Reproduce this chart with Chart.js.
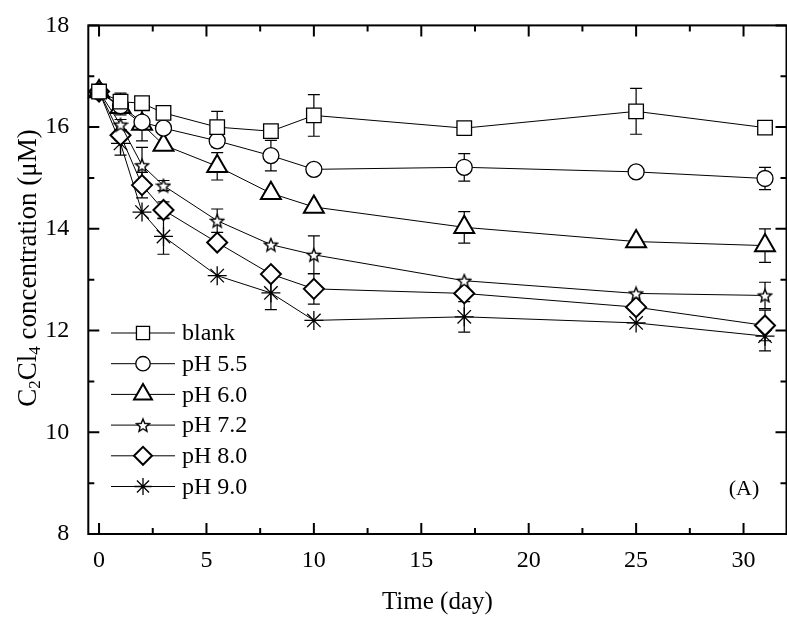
<!DOCTYPE html>
<html lang="en">
<head>
  <meta charset="UTF-8" />
  <title>C2Cl4 concentration vs time</title>
  <script src="https://cdn.jsdelivr.net/npm/chart.js"></script>
  <style>
    html, body {
      margin: 0;
      padding: 0;
      background: #fff;
      overflow: hidden;
    }
    canvas { display: block; }
  </style>
</head>
<body>
  <canvas id="pceChart" width="800" height="617"></canvas>

  <script>
    // sampling days
    const days = [0, 1, 2, 3, 5.5, 8, 10, 17, 25, 31];

    // concentrations (uM) and error bar half-widths
    const blank    = [16.70, 16.50, 16.47, 16.28, 16.00, 15.92, 16.23, 15.98, 16.31, 15.99];
    const blankErr = [0.05, 0.17, 0.10, 0, 0.31, 0, 0.41, 0, 0.45, 0.04];
    const ph55     = [16.70, 16.42, 16.10, 15.98, 15.73, 15.44, 15.17, 15.21, 15.12, 14.99];
    const ph55Err  = [0.05, 0.10, 0.10, 0, 0.12, 0.30, 0, 0.27, 0, 0.22];
    const ph60     = [16.70, 16.39, 16.06, 15.65, 15.23, 14.70, 14.43, 14.03, 13.75, 13.67];
    const ph60Err  = [0.05, 0.15, 0.33, 0, 0.27, 0, 0, 0.31, 0, 0.33];
    const ph72     = [16.70, 16.05, 15.25, 14.85, 14.16, 13.69, 13.49, 12.98, 12.73, 12.69];
    const ph72Err  = [0.05, 0.10, 0.35, 0.10, 0.23, 0, 0.37, 0, 0, 0.26];
    const ph80     = [16.70, 15.84, 14.86, 14.37, 13.73, 13.11, 12.82, 12.73, 12.46, 12.10];
    const ph80Err  = [0.05, 0.10, 0.25, 0.16, 0, 0, 0.30, 0, 0, 0.30];
    const ph90     = [16.70, 15.68, 14.33, 13.85, 13.08, 12.74, 12.20, 12.27, 12.15, 11.89];
    const ph90Err  = [0.05, 0.23, 0, 0.35, 0, 0.33, 0, 0.30, 0, 0.29];

    const seriesNames = ['blank', 'pH 5.5', 'pH 6.0', 'pH 7.2', 'pH 8.0', 'pH 9.0'];

    // axis ranges / tick steps
    const xRange = [-0.5, 32];
    const yRange = [8, 18];
    const xStep = 5;
    const yStep = 2;

    const FONT = "'Liberation Serif', 'Times New Roman', serif";

    // open five-pointed star (no built-in chart.js style for it)
    function makeStar(size) {
      const c = document.createElement('canvas');
      c.width = size;
      c.height = size;
      const g = c.getContext('2d');
      const cx = size / 2, cy = size / 2 + 0.7;
      const R = size / 2 - 1.2, r = R * 0.45;
      g.beginPath();
      for (let i = 0; i < 10; i++) {
        const a = -Math.PI / 2 + i * Math.PI / 5;
        const rr = i % 2 ? r : R;
        g.lineTo(cx + rr * Math.cos(a), cy + rr * Math.sin(a));
      }
      g.closePath();
      g.fillStyle = '#fff';
      g.fill();
      g.lineWidth = 1.4;
      g.strokeStyle = '#000';
      g.stroke();
      return c;
    }

    const toPoints = vals => vals.map((v, i) => ({ x: days[i], y: v }));

    const seriesValues = [blank, ph55, ph60, ph72, ph80, ph90];
    const seriesErrors = [blankErr, ph55Err, ph60Err, ph72Err, ph80Err, ph90Err];
    const markers = [
      { pointStyle: 'rect', pointRadius: 10.3, pointBorderWidth: 1.3 },
      { pointStyle: 'circle', pointRadius: 8, pointBorderWidth: 1.3 },
      { pointStyle: 'triangle', pointRadius: 11.5, pointBorderWidth: 2 },
      { pointStyle: makeStar(16), pointRadius: 7, pointBorderWidth: 1 },
      { pointStyle: 'rectRot', pointRadius: 10, pointBorderWidth: 2 },
      { pointStyle: 'star', pointRadius: 9.5, pointBorderWidth: 1.3 }
    ];

    const datasets = seriesNames.map((name, i) => ({
      label: name,
      data: toPoints(seriesValues[i]),
      errors: seriesErrors[i],
      borderColor: '#000',
      borderWidth: 1,
      pointBackgroundColor: '#fff',
      pointBorderColor: '#000',
      pointHoverRadius: markers[i].pointRadius,
      tension: 0,
      clip: false,
      ...markers[i]
    }));

    // error bars, drawn under the markers
    const errorBars = {
      id: 'errorBars',
      beforeDatasetsDraw(chart) {
        const { ctx, scales: { x, y } } = chart;
        ctx.save();
        ctx.strokeStyle = '#000';
        ctx.lineWidth = 1.2;
        chart.data.datasets.forEach(ds => {
          ds.errors.forEach((e, i) => {
            if (!e) return;
            const p = ds.data[i];
            const px = x.getPixelForValue(p.x);
            const top = y.getPixelForValue(p.y + e);
            const bot = y.getPixelForValue(p.y - e);
            ctx.beginPath();
            ctx.moveTo(px, top); ctx.lineTo(px, bot);
            ctx.moveTo(px - 6, top); ctx.lineTo(px + 6, top);
            ctx.moveTo(px - 6, bot); ctx.lineTo(px + 6, bot);
            ctx.stroke();
          });
        });
        ctx.restore();
      }
    };

    // closed frame with inward major + minor ticks on all four sides
    const frame = {
      id: 'frame',
      afterDatasetsDraw(chart) {
        const { ctx, chartArea: a, scales: { x, y } } = chart;
        ctx.save();
        ctx.strokeStyle = '#000';
        ctx.lineWidth = 2;
        ctx.strokeRect(a.left, a.top, a.right - a.left, a.bottom - a.top);

        const minors = ticks => {
          const out = [];
          for (let i = 0; i < ticks.length - 1; i++) out.push((ticks[i].value + ticks[i + 1].value) / 2);
          return out;
        };
        ctx.beginPath();
        const drawX = (vals, len) => vals.forEach(v => {
          const px = x.getPixelForValue(v);
          ctx.moveTo(px, a.bottom); ctx.lineTo(px, a.bottom - len);
          ctx.moveTo(px, a.top); ctx.lineTo(px, a.top + len);
        });
        const drawY = (vals, len) => vals.forEach(v => {
          const py = y.getPixelForValue(v);
          ctx.moveTo(a.left, py); ctx.lineTo(a.left + len, py);
          ctx.moveTo(a.right, py); ctx.lineTo(a.right - len, py);
        });
        drawX(x.ticks.map(t => t.value), 11);
        drawX(minors(x.ticks), 6);
        drawY(y.ticks.map(t => t.value), 11);
        drawY(minors(y.ticks), 6);
        ctx.stroke();
        ctx.restore();
      }
    };

    // legend in the lower-left of the plot, y title with subscripts, panel tag
    const decorations = {
      id: 'decorations',
      afterDraw(chart) {
        const { ctx } = chart;
        ctx.save();

        chart.data.datasets.forEach((ds, i) => {
          const yy = 333 + i * 30.7;
          ctx.strokeStyle = '#000';
          ctx.lineWidth = 1;
          ctx.beginPath();
          ctx.moveTo(111, yy);
          ctx.lineTo(175, yy);
          ctx.stroke();
          ctx.fillStyle = '#fff';
          ctx.lineWidth = ds.pointBorderWidth;
          Chart.helpers.drawPoint(ctx, {
            pointStyle: ds.pointStyle,
            radius: ds.pointRadius * 0.9,
            borderWidth: ds.pointBorderWidth,
            rotation: 0
          }, 143, yy);
          ctx.fillStyle = '#000';
          ctx.font = '24px ' + FONT;
          ctx.textAlign = 'left';
          ctx.textBaseline = 'middle';
          ctx.fillText(ds.label, 182, yy + 1);
        });

        ctx.fillStyle = '#000';
        ctx.font = '22px ' + FONT;
        ctx.textAlign = 'center';
        ctx.textBaseline = 'middle';
        ctx.fillText('(A)', 744, 489);

        // rotated y-axis title: C2Cl4 concentration (uM)
        const parts = [
          ['C', 27, 0], ['2', 17, 7], ['Cl', 27, 0], ['4', 17, 7], [' concentration (\u03bcM)', 27, 0]
        ];
        let total = 0;
        parts.forEach(p => { ctx.font = p[1] + 'px ' + FONT; total += ctx.measureText(p[0]).width; });
        ctx.translate(29, 268);
        ctx.rotate(-Math.PI / 2);
        ctx.textAlign = 'left';
        let cx = -total / 2;
        parts.forEach(p => {
          ctx.font = p[1] + 'px ' + FONT;
          ctx.fillText(p[0], cx, p[2]);
          cx += ctx.measureText(p[0]).width;
        });
        ctx.restore();
      }
    };

    const ctx = document.getElementById('pceChart').getContext('2d');
    const chart = new Chart(ctx, {
      type: 'line',
      data: { datasets },
      plugins: [errorBars, frame, decorations],
      options: {
        responsive: false,
        animation: false,
        layout: { padding: { top: 23, right: 11, left: 0, bottom: 0 } },
        plugins: {
          legend: { display: false },
          tooltip: { enabled: false }
        },
        scales: {
          x: {
            type: 'linear',
            min: xRange[0],
            max: xRange[1],
            grid: { display: false },
            border: { display: false },
            ticks: {
              stepSize: xStep,
              includeBounds: false,
              color: '#000',
              padding: 4,
              font: { family: FONT, size: 24 }
            },
            title: {
              display: true,
              text: 'Time (day)',
              color: '#000',
              padding: { top: 0, bottom: 0 },
              font: { family: FONT, size: 25 }
            },
            afterFit(scale) { scale.height = 83; }
          },
          y: {
            min: yRange[0],
            max: yRange[1],
            grid: { display: false },
            border: { display: false },
            ticks: {
              stepSize: yStep,
              color: '#000',
              padding: 11,
              font: { family: FONT, size: 24 }
            },
            afterFit(scale) { scale.width = 88.3; }
          }
        }
      }
    });
  </script>
</body>
</html>
